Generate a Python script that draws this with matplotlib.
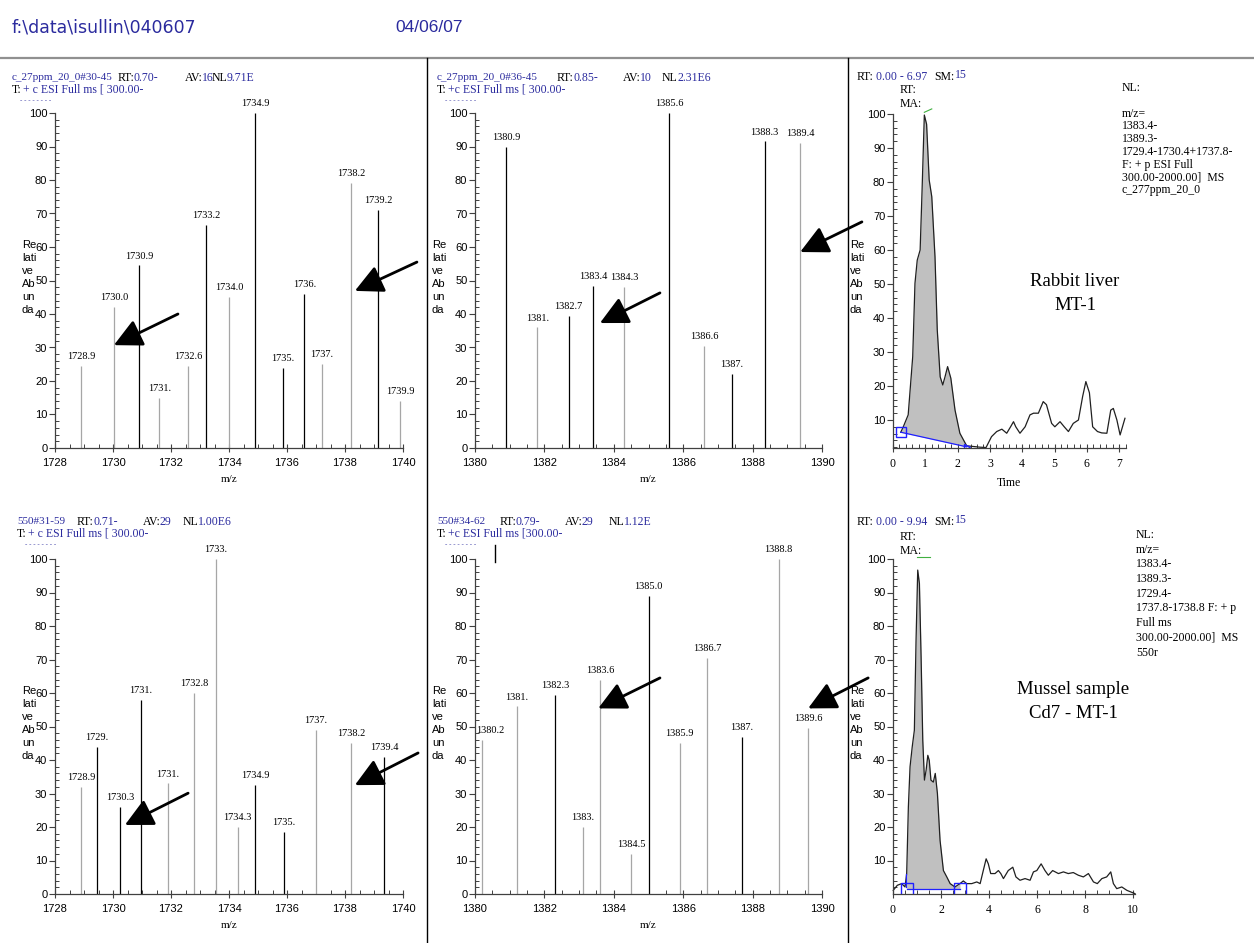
import numpy as np
import matplotlib
matplotlib.use('Agg')
import matplotlib.pyplot as plt
from matplotlib.lines import Line2D
from matplotlib.ticker import MultipleLocator

plt.rcParams['font.family'] = 'Liberation Serif'

# ---- spectra: m/z, relative abundance, peak label, dark stick (1) or grey (0)
tl_mz = [1728.9, 1730.05, 1730.9, 1731.6, 1732.6, 1733.2, 1734.0, 1734.9, 1735.85, 1736.6, 1737.2, 1738.2, 1739.15, 1739.9]
tl_int = [24.5, 42, 54.5, 15, 24.5, 66.5, 45, 100, 24, 46, 25, 79, 71, 14]
tl_lab = ["1728.9", "1730.0", "1730.9", "1731.", "1732.6", "1733.2", "1734.0", "1734.9", "1735.", "1736.", "1737.", "1738.2", "1739.2", "1739.9"]
tl_dark = [0, 0, 1, 0, 0, 1, 0, 1, 1, 1, 0, 0, 1, 0]

tm_mz = [1380.9, 1381.8, 1382.7, 1383.4, 1384.3, 1385.6, 1386.6, 1387.4, 1388.35, 1389.37]
tm_int = [90, 36, 39.5, 48.5, 48, 100, 30.5, 22, 91.5, 91]
tm_lab = ["1380.9", "1381.", "1382.7", "1383.4", "1384.3", "1385.6", "1386.6", "1387.", "1388.3", "1389.4"]
tm_dark = [1, 0, 1, 1, 0, 1, 0, 1, 1, 0]

bl_mz = [1728.9, 1729.45, 1730.25, 1730.95, 1731.9, 1732.8, 1733.55, 1734.3, 1734.9, 1735.9, 1737.0, 1738.2, 1739.35]
bl_int = [32, 44, 26, 58, 33, 60, 100, 20, 32.5, 18.5, 49, 45, 41]
bl_lab = ["1728.9", "1729.", "1730.3", "1731.", "1731.", "1732.8", "1733.", "1734.3", "1734.9", "1735.", "1737.", "1738.2", "1739.4"]
bl_dark = [0, 1, 1, 1, 0, 0, 0, 0, 1, 1, 0, 0, 1]

bm_mz = [1380.2, 1381.2, 1382.3, 1383.1, 1383.6, 1384.5, 1385.0, 1385.9, 1386.7, 1387.7, 1388.75, 1389.6]
bm_int = [46, 56, 59.5, 20, 64, 12, 89, 45, 70.5, 47, 100, 49.5]
bm_lab = ["1380.2", "1381.", "1382.3", "1383.", "1383.6", "1384.5", "1385.0", "1385.9", "1386.7", "1387.", "1388.8", "1389.6"]
bm_dark = [0, 0, 1, 0, 0, 0, 1, 0, 0, 1, 0, 0]

# arrows (tail x, tail y, head x, head y) in data units of each spectrum
tl_arrows = [(1732.24, 40.0, 1730.03, 30.7), (1740.48, 55.5, 1738.34, 46.9)]
tm_arrows = [(1385.33, 46.3, 1383.6, 37.3), (1391.15, 67.5, 1389.37, 58.5)]
bl_arrows = [(1732.59, 30.1, 1730.41, 20.6), (1740.52, 42.1, 1738.34, 32.5)]
bm_arrows = [(1385.33, 64.5, 1383.55, 55.4), (1391.33, 64.5, 1389.6, 55.4)]

# ---- chromatograms: time, relative abundance
tr_t = [0.24, 0.31, 0.47, 0.61, 0.68, 0.75, 0.84, 0.90, 0.97, 1.04, 1.12, 1.20, 1.30, 1.37, 1.46,
        1.54, 1.61, 1.69, 1.79, 1.92, 2.07, 2.28, 2.49, 2.69, 2.88, 3.05, 3.21, 3.37, 3.52, 3.64,
        3.73, 3.80, 3.93, 4.09, 4.24, 4.35, 4.50, 4.65, 4.75, 4.91, 5.01, 5.17, 5.30, 5.43, 5.58,
        5.74, 5.87, 5.97, 6.08, 6.18, 6.33, 6.46, 6.62, 6.74, 6.82, 6.93, 7.03, 7.18]
tr_y = [6.4, 7.8, 11.5, 28.6, 50.2, 57, 60, 77.6, 99.7, 97, 80.6, 75.7, 58, 36.5, 22.7,
        20.3, 22.7, 25.7, 22.3, 12.9, 6.1, 2.4, 2.2, 2.0, 1.9, 5.1, 6.6, 7.3, 6.1, 8.0,
        9.5, 8.0, 6.1, 8.0, 11.5, 12, 12, 15.4, 14.5, 9, 8, 9.5, 8, 6.6, 9,
        10, 16.9, 21.3, 18, 8, 6.6, 6.2, 6.1, 12.9, 13.4, 10, 5.6, 10.5]
tr_peak = (0.24, 6.4, 2.28, 2.1)   # integration start/end (t, y)

br_t = [0.01, 0.18, 0.36, 0.50, 0.57, 0.64, 0.71, 0.80, 0.89, 0.96, 1.03, 1.10, 1.17, 1.24, 1.31,
        1.38, 1.45, 1.51, 1.58, 1.68, 1.76, 1.85, 1.96, 2.10, 2.24, 2.38, 2.58, 2.79, 2.93, 3.07,
        3.28, 3.49, 3.63, 3.76, 3.88, 3.97, 4.07, 4.25, 4.39, 4.49, 4.60, 4.80, 4.99, 5.12, 5.29,
        5.50, 5.71, 5.85, 5.99, 6.17, 6.33, 6.47, 6.65, 6.89, 7.10, 7.30, 7.51, 7.72, 7.93, 8.14,
        8.35, 8.51, 8.70, 8.90, 9.07, 9.18, 9.32, 9.53, 9.74, 10.08]
br_y = [1.1, 2.6, 3.1, 2.1, 6.1, 26, 38, 43.9, 48.9, 75.8, 96.7, 92.7, 70.8, 45.9, 34,
        37, 41.4, 39.9, 34, 33.4, 36, 30, 16, 7, 5.1, 3.1, 2.1, 3.1, 3.9, 3.1,
        3.1, 3.6, 3.1, 7, 10.5, 9, 6.1, 6.1, 7, 6.1, 4.6, 7, 8, 5.1, 4.1,
        4.6, 4.1, 6.6, 7, 9, 7, 5.6, 7, 6.1, 6.6, 6.1, 6.4, 5.6, 5.1, 6.1,
        3.6, 3.1, 4.6, 5.1, 6.6, 3.1, 1.6, 2.1, 1.1, 0.1]
br_peak = (0.57, 1.6, 2.79, 1.6)

W, H = 1254, 943
BLUE = '#2b2b9e'
GREY = '#a6a6a6'
SANS = 'Liberation Sans'

fig = plt.figure(figsize=(W / 100, H / 100), dpi=100)


def fx(px):
    return px / W


def fy(py):
    return 1 - py / H


def ftext(x, y, s, color='k', size=8, family='Liberation Serif', **kw):
    fig.text(fx(x), fy(y), s, color=color, fontsize=size, family=family,
             va='center', ha='left', **kw)


def fline(x0, y0, x1, y1, color='k', lw=1.0):
    fig.add_artist(Line2D([fx(x0), fx(x1)], [fy(y0), fy(y1)], color=color, lw=lw,
                          transform=fig.transFigure))


def add_ax(x0, x1, ytop, ybot):
    ax = fig.add_axes([fx(x0), fy(ybot), (x1 - x0) / W, (ybot - ytop) / H])
    ax.patch.set_alpha(0)
    ax.spines['top'].set_visible(False)
    ax.spines['right'].set_visible(False)
    for s in ('left', 'bottom'):
        ax.spines[s].set_linewidth(0.9)
        ax.spines[s].set_color('#404040')
    ax.tick_params(which='major', labelsize=8, length=4, width=0.8, direction='out',
                   pad=1.5, colors='#404040', labelcolor='k', labelfontfamily=SANS)
    ax.tick_params(which='minor', length=3, width=0.7, direction='in', colors='#404040')
    ax.tick_params(axis='x', which='major', direction='inout', length=6, pad=4)
    return ax


def rel_abund(x, y):
    fig.text(fx(x), fy(y), "Re\nlati\nve\nAb\nun\nda", fontsize=8, family=SANS,
             va='top', ha='left', linespacing=1.38)


def spectrum(ax, mz, inten, labels, dark, arrows, xlo, xhi):
    ax.set_xlim(xlo, xhi)
    ax.set_ylim(0, 100)
    cols = ['k' if d else GREY for d in dark]
    ax.vlines(mz, 0, inten, colors=cols, lw=0.9)
    for m, i, lab in zip(mz, inten, labels):
        if m - xlo < 0.35:
            ax.annotate(lab, (xlo, i), xytext=(1, 3.5), textcoords='offset points',
                        ha='left', va='bottom', fontsize=7.5, annotation_clip=False)
        else:
            ax.annotate(lab, (m, i), xytext=(0, 3.5), textcoords='offset points',
                        ha='center', va='bottom', fontsize=7.5, annotation_clip=False)
    for x0, y0, x1, y1 in arrows:
        ax.annotate('', xy=(x1, y1), xytext=(x0, y0), annotation_clip=False,
                    arrowprops=dict(arrowstyle='-|>,head_length=0.9,head_width=0.45',
                                    lw=2.0, color='k', mutation_scale=19,
                                    shrinkA=0, shrinkB=0))
    ax.xaxis.set_major_locator(MultipleLocator(2))
    ax.xaxis.set_minor_locator(MultipleLocator(0.5))
    ax.yaxis.set_major_locator(MultipleLocator(10))
    ax.yaxis.set_minor_locator(MultipleLocator(2))
    ax.set_xlabel('m/z', fontsize=8, labelpad=5)


def chromatogram(ax, t, y, peak, xhi, ylo, xmaj, xmin_):
    t = np.array(t)
    y = np.array(y)
    t0, y0, t1, y1 = peak
    sel = (t >= t0) & (t <= t1)
    base = np.interp(t[sel], [t0, t1], [y0, y1])
    ax.fill_between(t[sel], base, y[sel], color='#c0c0c0', lw=0)
    ax.plot(t, y, color='#202020', lw=0.9, clip_on=False)
    ax.plot([t0, t1], [y0, y1], color='#2020ff', lw=0.9)
    ax.set_xlim(0, xhi)
    ax.set_ylim(ylo, 100)
    ax.xaxis.set_major_locator(MultipleLocator(xmaj))
    ax.xaxis.set_minor_locator(MultipleLocator(xmin_))
    ax.set_yticks(np.arange(10, 101, 10))
    ax.yaxis.set_minor_locator(MultipleLocator(2))
    ax.tick_params(axis='x', labelfontfamily='Liberation Serif', labelsize=8.5)


# ---- page frame and title
ftext(12, 27, r"f:\data\isullin\040607", color=BLUE, size=12.5, family='DejaVu Sans')
ftext(395, 27, "04/06/07", color=BLUE, size=12.5, family=SANS)
fline(0, 58, W, 58, color='#909090', lw=1.6)
fline(427, 58, 427, H)
fline(848, 58, 848, H)

# ---- spectra
ax = add_ax(55, 403, 113, 448)
spectrum(ax, tl_mz, tl_int, tl_lab, tl_dark, tl_arrows, 1728, 1740)
ax = add_ax(475, 822, 113, 448)
spectrum(ax, tm_mz, tm_int, tm_lab, tm_dark, tm_arrows, 1380, 1390)
ax = add_ax(55, 403, 559, 894)
spectrum(ax, bl_mz, bl_int, bl_lab, bl_dark, bl_arrows, 1728, 1740)
ax = add_ax(475, 822, 559, 894)
spectrum(ax, bm_mz, bm_int, bm_lab, bm_dark, bm_arrows, 1380, 1390)
fline(495, 545, 495, 562)

for x, y in [(22, 240), (432, 240), (850, 240), (22, 686), (432, 686), (850, 686)]:
    rel_abund(x, y)

# spectrum headers
for x0, y0, name, rt, av, nl, filt, rtx, avx, nlx in [
        (12, 78, "c_27ppm_20_0#30-45", "0.70-", "16", "9.71E", "+ c ESI Full ms [ 300.00-", 118, 185, 212),
        (437, 78, "c_27ppm_20_0#36-45", "0.85-", "10", "2.31E6", "+c ESI Full ms [ 300.00-", 557, 623, 662),
        (17, 522, "550#31-59", "0.71-", "29", "1.00E6", "+ c ESI Full ms [ 300.00-", 77, 143, 183),
        (437, 522, "550#34-62", "0.79-", "29", "1.12E", "+c ESI Full ms [300.00-", 500, 565, 609)]:
    ftext(x0, y0, name, color=BLUE, size=8)
    ftext(rtx, y0, "RT:", size=8.5)
    ftext(rtx + 16, y0, rt, color=BLUE, size=8.5)
    ftext(avx, y0, "AV:", size=8.5)
    ftext(avx + 17, y0, av, color=BLUE, size=8.5)
    ftext(nlx, y0, "NL", size=8.5)
    ftext(nlx + 15, y0, nl, color=BLUE, size=8.5)
    ftext(x0, y0 + 12, "T:", size=8.5)
    ftext(x0 + 11, y0 + 12, filt, color=BLUE, size=8.5)
    ftext(x0 + 8, y0 + 22, "- - - - - - - -", color=BLUE, size=5)

# ---- chromatograms
ax = add_ax(893, 1125.6, 114, 448)
chromatogram(ax, tr_t, tr_y, tr_peak, 7.2, 1.76, 1, 0.2)
ax.plot([tr_peak[0]], [tr_peak[1]], 's', ms=7, mfc='none', mec='#2020ff', mew=1)
ax.plot([tr_peak[2]], [tr_peak[3]], '>', ms=4, mfc='none', mec='#2020ff', mew=1)
ax.plot([0.97, 1.2], [100.5, 101.5], color='#40b040', lw=0.8, clip_on=False)
ax.set_xlabel('Time', fontsize=8.5, labelpad=5)
fig.text(fx(1075), fy(282), "Rabbit liver", fontsize=13.5, ha='center', va='center')
fig.text(fx(1075), fy(306), "MT-1", fontsize=13.5, ha='center', va='center')

ax = add_ax(893, 1135, 559, 894)
chromatogram(ax, br_t, br_y, br_peak, 10.08, 0, 2, 0.5)
ax.plot([br_peak[0], br_peak[2]], [br_peak[1], br_peak[3]], 's', ms=9, mfc='none',
        mec='#2020ff', mew=1)
ax.plot([0.56, 0.56], [2, 6], color='#2020ff', lw=0.9)
ax.plot([1.0, 1.55], [100.5, 100.5], color='#40b040', lw=0.8, clip_on=False)
fig.text(fx(1073), fy(689), "Mussel sample", fontsize=13.5, ha='center', va='center')
fig.text(fx(1073), fy(714), "Cd7 - MT-1", fontsize=13.5, ha='center', va='center')

# chromatogram headers
for y0, rng in [(77, "0.00 - 6.97"), (522, "0.00 - 9.94")]:
    ftext(857, y0, "RT:", size=8.5)
    ftext(876, y0, rng, color=BLUE, size=8.5)
    ftext(934, y0, "SM:", size=8.5)
    ftext(955, y0 - 2, "15", color=BLUE, size=8.5)
    ftext(900, y0 + (13 if y0 < 100 else 15), "RT:", size=8.5)
    ftext(900, y0 + (27 if y0 < 100 else 29), "MA:", size=8.5)

top_info = ["NL:", "", "m/z=", "1383.4-", "1389.3-", "1729.4-1730.4+1737.8-",
            "F: + p ESI Full", "300.00-2000.00]  MS", "c_277ppm_20_0"]
for k, s in enumerate(top_info):
    ftext(1122, 88 + 12.8 * k, s, size=8.5)
bot_info = ["NL:", "m/z=", "1383.4-", "1389.3-", "1729.4-", "1737.8-1738.8 F: + p",
            "Full ms", "300.00-2000.00]  MS", "550r"]
for k, s in enumerate(bot_info):
    ftext(1136, 535 + 14.7 * k, s, size=8.5)

fig.savefig('out.png', dpi=100)
